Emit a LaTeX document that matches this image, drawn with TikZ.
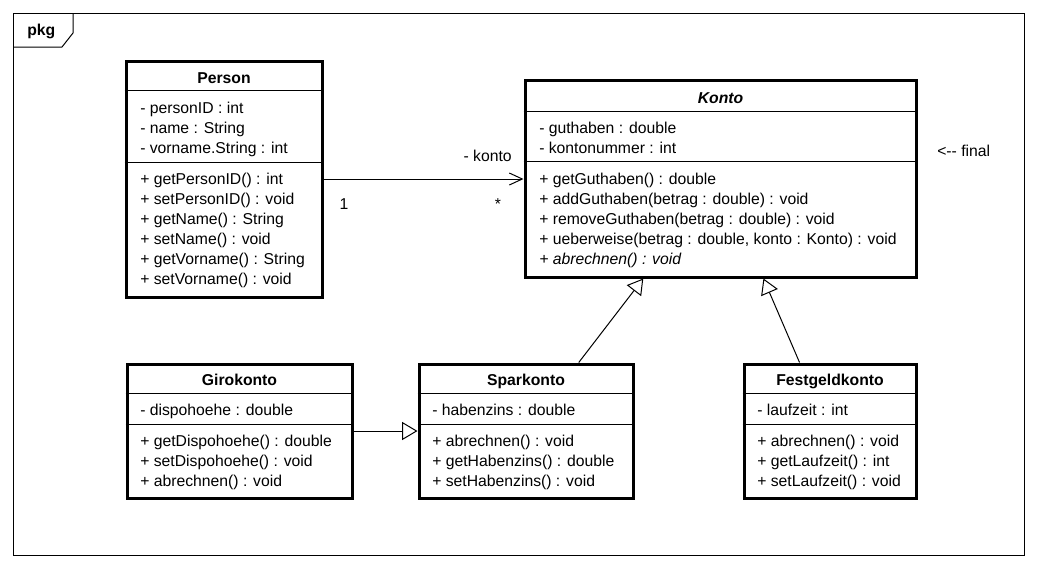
\documentclass[tikz,border=0pt]{standalone}
\usepackage{fontspec}
\setmainfont{Liberation Sans}
\usetikzlibrary{arrows.meta,fit,calc}

% one text line per member, stacked 20px apart from the first baseline
\newcommand\memberlist[4]{%
  \foreach \t [count=\i] in {#4}
    \node[member] (#1\i) at ({#2},{#3+20*(\i-1)}) {\t};%
}

\begin{document}
\begin{tikzpicture}[x=0.75pt,y=-0.75pt,
  classbox/.style={draw, line width=2.25pt, inner sep=0pt},
  sepline/.style={line width=0.75pt},
  thinframe/.style={draw, line width=0.75pt, inner sep=0pt},
  member/.style={anchor=base west, inner sep=0pt, font=\fontsize{11.8}{14}\selectfont},
  classname/.style={anchor=base, inner sep=0pt, font=\fontsize{11.8}{14}\selectfont\bfseries},
  label/.style={inner sep=0pt, font=\fontsize{11.8}{14}\selectfont},
  assoc/.style={line width=0.75pt, -{Straight Barb[length=9.75pt,width=9pt,line width=0.75pt]}},
  inherit/.style={line width=0.75pt, -{Triangle[open,length=11.5pt,width=13.5pt,line width=0.75pt]}}
]
\fill[white] (0,0) rectangle (1037,568);
\useasboundingbox (0,0) rectangle (1037,568);

% package frame with its name tab
\node[thinframe, fit={(13,13)(1024,555)}] (frame) {};
\draw[line width=0.75pt] (13,47) -- (62,47) -- (73,33) -- (73,13);
\node[anchor=base west, inner sep=0pt, font=\fontsize{11.8}{14}\selectfont\bfseries] (pkgname) at (27,35) {pkg};

% Person
\node[classbox, fit={(126,61)(322,297)}] (person) {};
\node[classname] (personname) at (224,83.5) {Person};
\draw[sepline] (person.west |- 0,90) -- (person.east |- 0,90);
\draw[sepline] (person.west |- 0,162) -- (person.east |- 0,162);
\memberlist{personA}{140}{113}{{- personID : int},{- name : String},{- vorname.String : int}}
\memberlist{personM}{140}{184.5}{{+ getPersonID() : int},{+ setPersonID() : void},{+ getName() : String},{+ setName() : void},{+ getVorname() : String},{+ setVorname() : void}}

% Konto (abstract)
\node[classbox, fit={(525,80)(916,277)}] (konto) {};
\node[classname, font=\fontsize{11.8}{14}\selectfont\bfseries\itshape] (kontoname) at (720.5,103) {Konto};
\draw[sepline] (konto.west |- 0,111.5) -- (konto.east |- 0,111.5);
\draw[sepline] (konto.west |- 0,161) -- (konto.east |- 0,161);
\memberlist{kontoA}{539}{133.5}{{- guthaben : double},{- kontonummer : int}}
\memberlist{kontoM}{539}{184.5}{{+ getGuthaben() : double},{+ addGuthaben(betrag : double) : void},{+ removeGuthaben(betrag : double) : void},{+ ueberweise(betrag : double, konto : Konto) : void},{\itshape + abrechnen() : void}}

% Girokonto
\node[classbox, fit={(127,364)(352,498)}] (giro) {};
\node[classname] (gironame) at (239.5,385.5) {Girokonto};
\draw[sepline] (giro.west |- 0,393) -- (giro.east |- 0,393);
\draw[sepline] (giro.west |- 0,424) -- (giro.east |- 0,424);
\memberlist{giroA}{140}{415}{{- dispohoehe : double}}
\memberlist{giroM}{140}{446}{{+ getDispohoehe() : double},{+ setDispohoehe() : void},{+ abrechnen() : void}}

% Sparkonto
\node[classbox, fit={(419,364)(633,498)}] (spar) {};
\node[classname] (sparname) at (526,385.5) {Sparkonto};
\draw[sepline] (spar.west |- 0,393) -- (spar.east |- 0,393);
\draw[sepline] (spar.west |- 0,424) -- (spar.east |- 0,424);
\memberlist{sparA}{432}{415}{{- habenzins : double}}
\memberlist{sparM}{432}{446}{{+ abrechnen() : void},{+ getHabenzins() : double},{+ setHabenzins() : void}}

% Festgeldkonto
\node[classbox, fit={(744,364)(916,498)}] (fest) {};
\node[classname] (festname) at (830,385.5) {Festgeldkonto};
\draw[sepline] (fest.west |- 0,393) -- (fest.east |- 0,393);
\draw[sepline] (fest.west |- 0,424) -- (fest.east |- 0,424);
\memberlist{festA}{757}{415}{{- laufzeit : int}}
\memberlist{festM}{757}{446}{{+ abrechnen() : void},{+ getLaufzeit() : int},{+ setLaufzeit() : void}}

% association Person -> Konto
\draw[assoc] (person.east) -- (person.east -| konto.west);
\node[label, anchor=base east] (rolename) at (512,161.5) {- konto};
\node[label, anchor=base] (multone) at (344,209.5) {1};
\node[label, anchor=base] (multmany) at (498,209.5) {*};

% generalizations
\draw[inherit] (giro.east) -- (spar.west);
\draw[inherit] ($(spar.north west)!0.743!(spar.north east)$) -- ($(konto.south west)!0.304!(konto.south east)$);
\draw[inherit] ($(fest.north west)!0.326!(fest.north east)$) -- ($(konto.south west)!0.609!(konto.south east)$);

% note beside Konto
\node[label, anchor=base west] (finalnote) at (937,156) {<{-}{-} final};
\end{tikzpicture}
\end{document}
